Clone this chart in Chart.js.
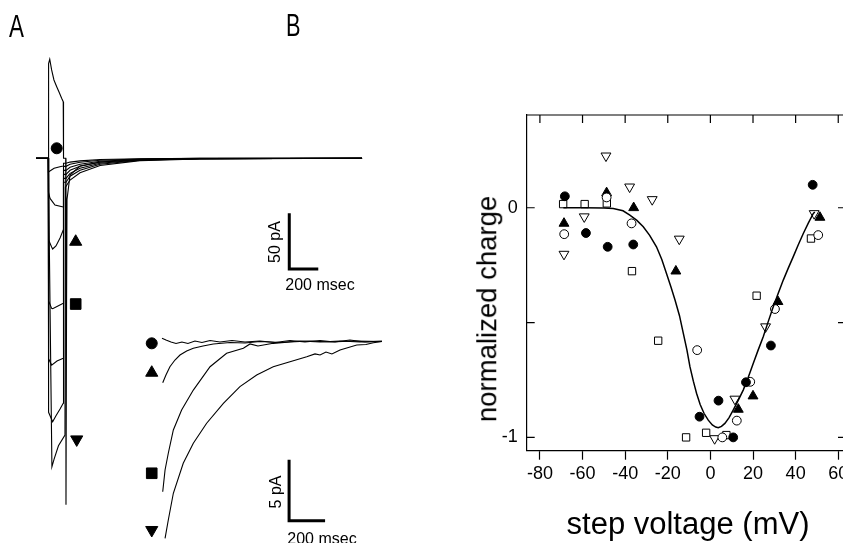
<!DOCTYPE html>
<html><head><meta charset="utf-8">
<script src="https://cdn.jsdelivr.net/npm/chart.js@4.4.1/dist/chart.umd.min.js"></script>
<style>
html,body{margin:0;padding:0;background:#fff;overflow:hidden;width:843px;height:543px}
#wrap{position:relative;width:843px;height:543px;overflow:hidden;font-family:"Liberation Sans",Arial,Helvetica,sans-serif;color:#000;background:#fff}
canvas{position:absolute}
.t{position:absolute;white-space:nowrap;line-height:1}
.c{transform:translate(-50%,-50%)}
.r{transform:translate(-50%,-50%) rotate(-90deg)}
</style></head><body><div id="wrap">
<canvas id="cA" width="420" height="543" style="left:0;top:0;width:420px;height:543px"></canvas>
<canvas id="cI" width="280" height="223" style="left:140px;top:320px;width:280px;height:223px"></canvas>
<canvas id="cB" width="416" height="443" style="left:430px;top:100px;width:416px;height:443px"></canvas>
<div class="t" style="left:9px;top:10px;font-size:32px;transform:scaleX(0.7);transform-origin:0 0">A</div>
<div class="t" style="left:286px;top:9px;font-size:32px;transform:scaleX(0.68);transform-origin:0 0">B</div>
<div class="t r" style="left:275px;top:242px;font-size:16px">50 pA</div>
<div class="t c" style="left:320px;top:285px;font-size:16px">200 msec</div>
<div class="t r" style="left:276px;top:492px;font-size:16px">5 pA</div>
<div class="t c" style="left:322px;top:539px;font-size:16px">200 msec</div>
<div class="t r" style="left:487px;top:309px;font-size:27.5px">normalized charge</div>
<div class="t c" style="left:688px;top:523px;font-size:31px">step voltage (mV)</div>
</div>
<script>
// ---------- Panel A: current traces (time in ms, current in pA) ----------
const t0 = [-85, 0, 2, 10, 23, 39, 58, 74, 92, 103, 105, 120, 122, 126, 129, 150, 219, 357, 632, 1046, 2164];
const i0 = [0, 0, 85, 88.9, 79.3, 70.3, 64.3, 59.5, 53.9, 50.8, 0, 0, -311, -127, -37, -15, -6.9, -3.3, -1.1, -0.4, 0];
const t1 = [-85, 0, 1, 40, 80, 103, 105, 122, 150, 219, 357, 632, 1046, 2164];
const i1 = [0, 0, -12.3, -9, -7.5, -6.9, -4.5, -4.5, -3.4, -2.3, -1.1, -0.4, -0.1, 0];
const t2 = [-85, 0, 1, 12, 46, 103, 105, 122, 150, 219, 357, 632, 1046, 2164];
const i2 = [0, 0, -30.3, -36, -41.9, -43.7, -7.2, -7.2, -5.4, -3.6, -1.8, -0.6, -0.1, 0];
const t3 = [-85, 0, 2, 23, 30, 53, 81, 103, 105, 122, 150, 219, 357, 632, 1046, 2164];
const i3 = [0, 0, -73.4, -79.6, -81.4, -78.7, -71.5, -64.4, -10.8, -10.8, -8.1, -5.4, -2.7, -0.9, -0.2, 0];
const t4 = [-85, 0, 2, 23, 30, 60, 103, 105, 122, 150, 219, 357, 632, 1046, 2164];
const i4 = [0, 0, -128, -134.7, -135, -133, -130.2, -14.4, -14.4, -10.8, -7.2, -3.6, -1.2, -0.3, 0];
const t5 = [-85, 0, 2, 23, 60, 103, 105, 122, 150, 219, 357, 632, 1046, 2164];
const i5 = [0, 0, -180, -185.6, -182, -179.5, -18, -18, -13.5, -9, -4.5, -1.4, -0.4, 0];
const t6 = [-85, 0, 2, 30, 53, 81, 103, 105, 122, 150, 219, 357, 632, 1046, 2164];
const i6 = [0, 0, -228, -236.5, -231, -225, -219.9, -21.5, -21.5, -16.1, -10.8, -5.4, -1.7, -0.4, 0];
const t7 = [-85, 0, 25, 40, 70, 115, 118, 122, 150, 219, 357, 632, 1046, 2164];
const i7 = [0, 0, -276.9, -270, -258, -248.4, -26, -26, -19.5, -13, -6.5, -2.1, -0.5, 0];
const markA_t = [58, 189, 189, 196];
const markA_i = [9.0, -74.9, -130.8, -252.3];
const barA_t = [1662, 1662, 1862];
const barA_i = [-49.4, -99.4, -99.4];

// ---------- Panel A inset (time in ms, current in pA) ----------
const tc = [0, 22, 50, 78, 111, 144, 183, 222, 267, 322, 389, 461, 544, 628, 711, 794, 878, 961, 1044, 1128, 1222];
const ic = [0.26, 0.12, -0.04, -0.16, -0.04, -0.16, 0.04, -0.08, 0.08, -0.04, 0.08, -0.04, 0.04, -0.08, 0.08, -0.04, 0.08, -0.04, 0.12, -0.04, 0.04];
const tt = [4, 22, 44, 72, 100, 137, 174, 228, 285, 378, 461, 544, 656, 767, 878, 989, 1100, 1222];
const it = [-3.38, -2.75, -2.07, -1.52, -1.11, -0.78, -0.56, -0.37, -0.2, -0.08, -0.12, 0, -0.08, 0.04, -0.04, 0.04, -0.04, 0];
const ts = [4, 17, 35, 63, 109, 174, 267, 359, 452, 489, 533, 618, 711, 822, 933, 1072, 1222];
const is = [-12.31, -10.53, -9.16, -7.25, -5.61, -3.98, -2.07, -0.97, -0.56, -0.2, -0.37, -0.15, -0.04, 0.04, -0.04, 0.04, 0];
const td = [17, 35, 63, 118, 174, 248, 341, 433, 526, 618, 711, 804, 850, 878, 911, 944, 989, 1082, 1133, 1174, 1222];
const id = [-16.13, -14.63, -12.44, -9.98, -8.34, -6.7, -5.07, -3.7, -2.75, -2.07, -1.66, -1.25, -1.02, -1.11, -0.86, -1.02, -0.7, -0.29, -0.25, -0.1, 0];
const markI_t = [-57, -57, -57, -57];
const markI_i = [-0.15, -2.56, -10.8, -15.45];
const barI_t = [706, 706, 906];
const barI_i = [-9.7, -14.7, -14.7];

// ---------- Panel B: normalized charge vs step voltage ----------
const filledCircleV = [-68.3, -58.4, -48.2, -36.2, -5.1, 3.8, 10.7, 16.7, 28.4, 48.0];
const filledCircleQ = [0.05, -0.11, -0.17, -0.16, -0.91, -0.84, -1.0, -0.76, -0.60, 0.10];
const openCircleV = [-68.6, -48.7, -37.0, -6.2, 5.6, 12.4, 18.7, 30.3, 50.6];
const openCircleQ = [-0.115, 0.045, -0.068, -0.62, -1.0, -0.927, -0.758, -0.441, -0.119];
const filledTriV = [-68.7, -48.7, -36.0, -16.2, 13.1, 20.0, 31.7, 51.4];
const filledTriQ = [-0.068, 0.065, 0.0, -0.276, -0.878, -0.82, -0.409, -0.042];
const openSquareV = [-69.1, -59.0, -48.6, -36.8, -24.5, -11.4, -2.0, 7.5, 21.7, 47.2];
const openSquareQ = [0.016, 0.016, 0.019, -0.276, -0.579, -1.0, -0.98, -0.99, -0.383, -0.134];
const openDownTriV = [-68.7, -59.2, -49.0, -37.9, -27.3, -14.6, 2.0, 11.5, 25.9, 48.7];
const openDownTriQ = [-0.202, -0.039, 0.226, 0.091, 0.036, -0.136, -1.005, -0.833, -0.518, -0.025];
const fitV = [-69, -60, -50, -45.6, -41, -37.8, -34.5, -31.5, -28.5, -25.3, -22.8, -20.6, -18.5, -16.6, -14.5, -12.7, -11, -9.6, -8, -6.5, -4.8, -3.0, -1, 0.9, 2.5, 3.7, 5.2, 6.8, 8.7, 10.7, 13, 15.4, 17.7, 20.1, 22.4, 24.8, 27.1, 29.5, 31.8, 34.2, 36.5, 38.9, 41.2, 43.6, 46, 48.3, 49.0];
const fitQ = [0, 0, -0.001, -0.003, -0.013, -0.032, -0.055, -0.083, -0.12, -0.17, -0.225, -0.286, -0.345, -0.402, -0.47, -0.547, -0.62, -0.692, -0.755, -0.808, -0.857, -0.895, -0.925, -0.946, -0.955, -0.958, -0.952, -0.939, -0.915, -0.881, -0.84, -0.794, -0.74, -0.678, -0.62, -0.562, -0.497, -0.431, -0.373, -0.315, -0.264, -0.213, -0.162, -0.112, -0.066, -0.025, -0.018];
const xTicksB = [-80, -60, -40, -20, 0, 20, 40, 60];
const yTicksB = [-1, -0.5, 0];
const yTickLabelsB = ['-1', '', '0'];

const pts = (xs, ys) => xs.map((x, i) => ({x: x, y: ys[i]}));
const K = '#000';
const trace = (xs, ys, w) => ({data: pts(xs, ys), showLine: true, pointRadius: 0, borderColor: K, borderWidth: w || 1.1, fill: false, tension: 0});
const base = {animation: false, responsive: false, devicePixelRatio: 1, events: [],
  layout: {padding: 0, autoPadding: false},
  plugins: {legend: {display: false}, tooltip: {enabled: false}}};

// Panel A main
new Chart(document.getElementById('cA'), {
  type: 'scatter',
  data: {datasets: [
    trace(t0, i0), trace(t1, i1), trace(t2, i2), trace(t3, i3), trace(t4, i4), trace(t5, i5), trace(t6, i6), trace(t7, i7),
    trace(barA_t, barA_i, 3),
    {data: pts(markA_t, markA_i), showLine: false, pointStyle: ['circle', 'triangle', 'rect', 'triangle'],
     rotation: [0, 0, 0, 180], pointRadius: [5.5, 7, 7.5, 7], backgroundColor: K, borderColor: K, borderWidth: 1}
  ]},
  options: Object.assign({}, base, {scales: {
    x: {type: 'linear', display: false, min: -333.1, max: 2563.6},
    y: {type: 'linear', display: false, min: -345.3, max: 142.1}}})
});

// Panel A inset
new Chart(document.getElementById('cI'), {
  type: 'scatter',
  data: {datasets: [
    trace(tc, ic), trace(tt, it), trace(ts, is), trace(td, id),
    trace(barI_t, barI_i, 3),
    {data: pts(markI_t, markI_i), showLine: false, pointStyle: ['circle', 'triangle', 'rect', 'triangle'],
     rotation: [0, 0, 0, 180], pointRadius: [5.5, 7, 7.5, 7], backgroundColor: K, borderColor: K, borderWidth: 1}
  ]},
  options: Object.assign({}, base, {scales: {
    x: {type: 'linear', display: false, min: -122.2, max: 1433.3},
    y: {type: 'linear', display: false, min: -16.516, max: 1.762}}})
});

// Panel B
const boxTicks = {
  id: 'boxTicks',
  afterDraw(chart) {
    const ctx = chart.ctx, a = chart.chartArea, x = chart.scales.x, y = chart.scales.y;
    ctx.save(); ctx.strokeStyle = K; ctx.lineWidth = 1.2; ctx.beginPath();
    ctx.moveTo(a.left, a.top); ctx.lineTo(a.right, a.top);
    ctx.moveTo(a.right, a.top); ctx.lineTo(a.right, a.bottom);
    xTicksB.forEach(v => { const p = x.getPixelForValue(v); ctx.moveTo(p, a.top); ctx.lineTo(p, a.top + 8); });
    yTicksB.forEach(v => { const p = y.getPixelForValue(v); ctx.moveTo(a.left, p); ctx.lineTo(a.left + 8, p); ctx.moveTo(a.right, p); ctx.lineTo(a.right - 6, p); });
    ctx.stroke(); ctx.restore();
  }
};
const font = {family: '"Liberation Sans", Arial, sans-serif', size: 18};
new Chart(document.getElementById('cB'), {
  type: 'scatter',
  data: {datasets: [
    {label: 'fit', data: pts(fitV, fitQ), showLine: true, pointRadius: 0, borderColor: K, borderWidth: 1.5, tension: 0},
    {label: 'filled circle', data: pts(filledCircleV, filledCircleQ), pointStyle: 'circle', pointRadius: 4.4, backgroundColor: K, borderColor: K, borderWidth: 1},
    {label: 'open circle', data: pts(openCircleV, openCircleQ), pointStyle: 'circle', pointRadius: 4.4, backgroundColor: '#fff', borderColor: K, borderWidth: 1},
    {label: 'filled triangle', data: pts(filledTriV, filledTriQ), pointStyle: 'triangle', pointRadius: 5.7, backgroundColor: K, borderColor: K, borderWidth: 1},
    {label: 'open square', data: pts(openSquareV, openSquareQ), pointStyle: 'rect', pointRadius: 5.2, backgroundColor: '#fff', borderColor: K, borderWidth: 1},
    {label: 'open down triangle', data: pts(openDownTriV, openDownTriQ), pointStyle: 'triangle', rotation: 180, pointRadius: 5.7, backgroundColor: '#fff', borderColor: K, borderWidth: 1}
  ]},
  options: Object.assign({}, base, {
    layout: {padding: {left: 0, top: 15, right: 2, bottom: 0}, autoPadding: false},
    scales: {
      x: {type: 'linear', position: 'bottom', min: -86.2, max: 62.7,
        afterBuildTicks: s => { s.ticks = xTicksB.map(v => ({value: v})); },
        ticks: {color: K, font: font, padding: 4, maxRotation: 0, autoSkip: false},
        grid: {drawOnChartArea: false, drawTicks: true, tickLength: 9, color: K, tickWidth: 1.2},
        border: {display: true, color: K, width: 1.2},
        afterFit: s => { s.height = 92.3; s.paddingLeft = 0; s.paddingRight = 0; }},
      y: {type: 'linear', position: 'left', min: -1.058, max: 0.404,
        afterBuildTicks: s => { s.ticks = yTicksB.map(v => ({value: v})); },
        ticks: {color: K, font: font, padding: 9, autoSkip: false, callback: (v, i) => yTickLabelsB[i]},
        grid: {drawOnChartArea: false, drawTicks: false},
        border: {display: true, color: K, width: 1.2},
        afterFit: s => { s.width = 96.7; s.paddingTop = 0; s.paddingBottom = 0; }}
    }
  }),
  plugins: [boxTicks]
});
</script>
</body></html>
